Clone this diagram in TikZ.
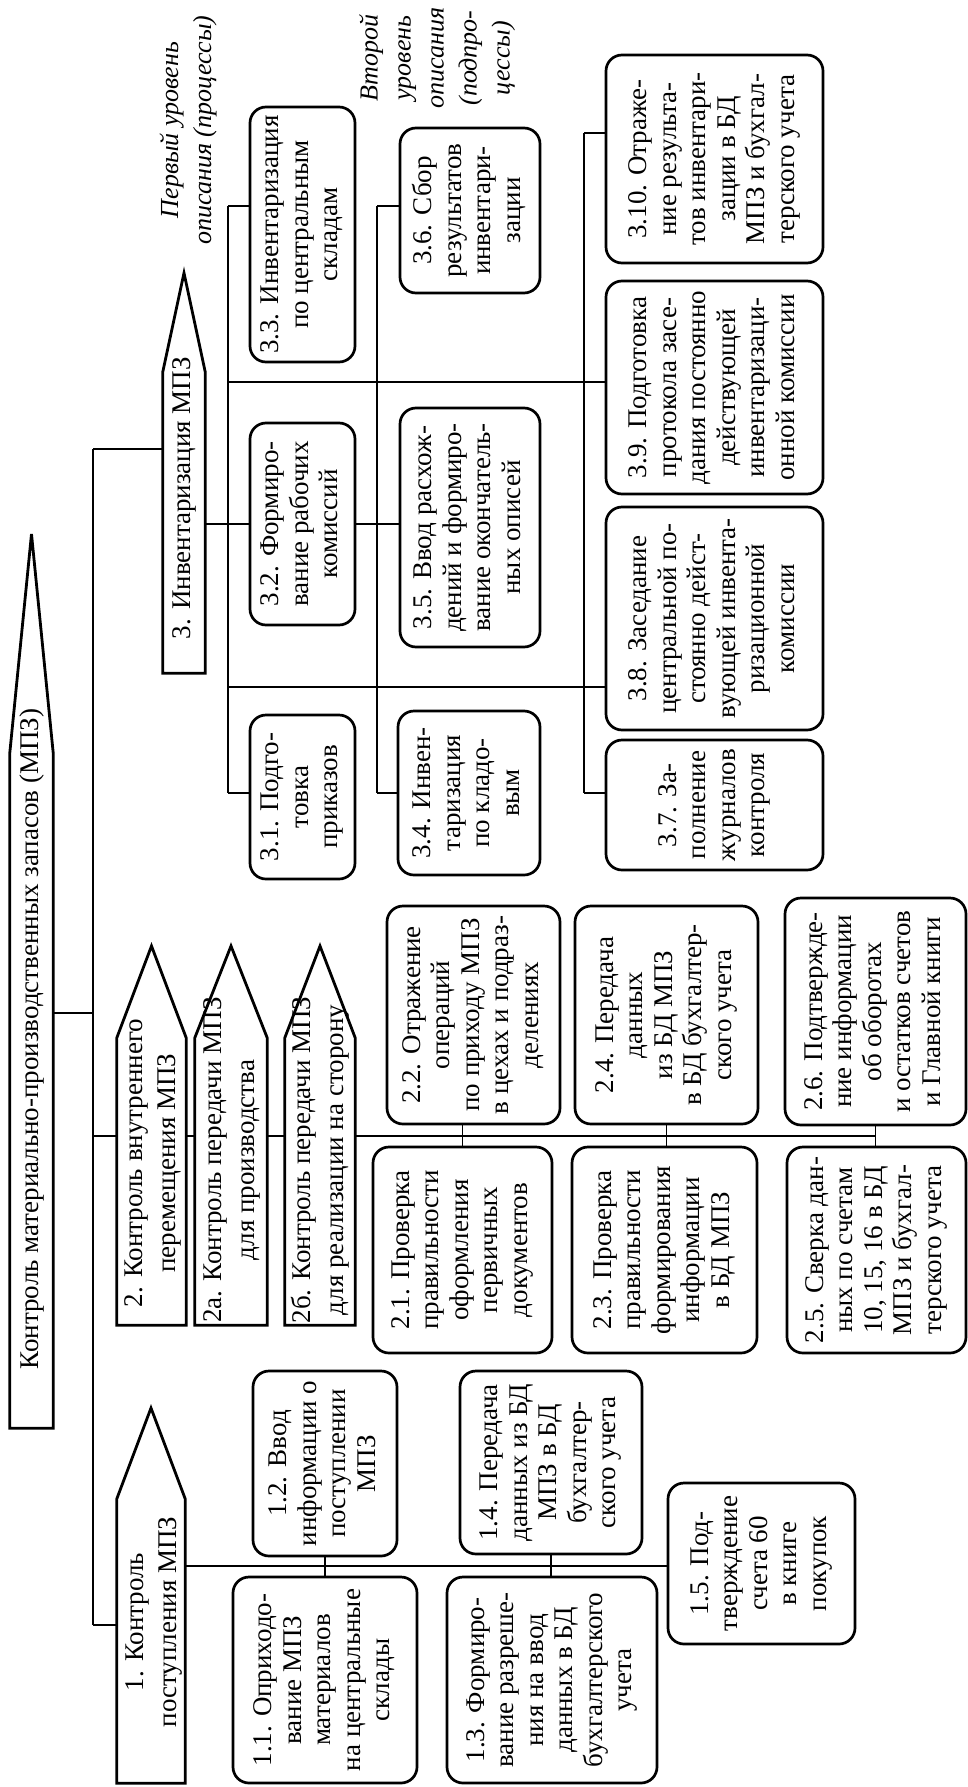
\documentclass[tikz,border=0pt]{standalone}
\usepackage{fontspec}
\usepackage{graphicx}
\setmainfont{Liberation Serif}
\usetikzlibrary{fit,calc,backgrounds}
\newcommand{\rtxt}[1]{\rotatebox{90}{\begin{tabular}{@{}c@{}}#1\end{tabular}}}
\begin{document}
\begin{tikzpicture}[x=1pt,y=-1pt,
  conn/.style={line width=1.3pt},
  bx/.style={draw, rounded corners=16pt, line width=2.7pt, inner sep=0pt, fill=white},
  btxt/.style={inner sep=0pt, font=\fontsize{27}{29.5}\selectfont},
  shaft/.style={inner sep=0pt, draw=none},
  pent/.style={draw, line width=2.8pt, fill=white, line join=miter},
  ptxt/.style={inner sep=0pt, font=\fontsize{27}{33}\selectfont},
  lab/.style={inner sep=0pt, font=\itshape\fontsize{26}{33}\selectfont}]
\useasboundingbox (0,0) rectangle (968,1787);

% pentagon shafts (invisible) and tips
\node[shaft, fit={(10,753) (53,1428)}] (s0) {};
\node[shaft, fit={(117,1499) (185,1783)}] (s1) {};
\node[shaft, fit={(117,1038) (186,1325)}] (s2) {};
\node[shaft, fit={(195,1038) (267,1325)}] (s2a) {};
\node[shaft, fit={(285,1038) (355,1325)}] (s2b) {};
\node[shaft, fit={(163,372) (205,673)}] (s3) {};
\coordinate (k0) at (s0.north |- 0,534);
\coordinate (k1) at (s1.north |- 0,1408);
\coordinate (k2) at (s2.north |- 0,946);
\coordinate (k2a) at (s2a.north |- 0,946);
\coordinate (k2b) at (s2b.north |- 0,946);
\coordinate (k3) at (s3.north |- 0,273);

% boxes
\node[bx, fit={(233,1577) (417,1783)}] (b11) {};
\node[bx, fit={(253,1371) (397,1556)}] (b12) {};
\node[bx, fit={(447,1577) (657,1783)}] (b13) {};
\node[bx, fit={(460,1371) (642,1554)}] (b14) {};
\node[bx, fit={(668,1483) (855,1644)}] (b15) {};
\node[bx, fit={(373,1147) (552,1353)}] (b21) {};
\node[bx, fit={(387,906) (560,1124)}] (b22) {};
\node[bx, fit={(572,1147) (757,1353)}] (b23) {};
\node[bx, fit={(575,906) (758,1124)}] (b24) {};
\node[bx, fit={(787,1147) (966,1353)}] (b25) {};
\node[bx, fit={(785,898) (966,1125)}] (b26) {};
\node[bx, fit={(250,715) (355,879)}] (b31) {};
\node[bx, fit={(250,423) (355,625)}] (b32) {};
\node[bx, fit={(250,107) (355,362)}] (b33) {};
\node[bx, fit={(398,711) (540,875)}] (b34) {};
\node[bx, fit={(400,408) (540,647)}] (b35) {};
\node[bx, fit={(400,128) (540,293)}] (b36) {};
\node[bx, fit={(606,740) (823,870)}] (b37) {};
\node[bx, fit={(606,507) (823,730)}] (b38) {};
\node[bx, fit={(606,281) (823,494)}] (b39) {};
\node[bx, fit={(606,55) (823,263)}] (b310) {};

\node[btxt] (x11) at (b11.center) {\rtxt{1.1. Оприходо-\\вание МПЗ\\материалов\\на центральные\\склады}};
\node[btxt] (x12) at (b12.center) {\rtxt{1.2. Ввод\\информации о\\поступлении\\МПЗ}};
\node[btxt] (x13) at (b13.center) {\rtxt{1.3. Формиро-\\вание разреше-\\ния на ввод\\данных в БД\\бухгалтерского\\учета}};
\node[btxt] (x14) at (b14.center) {\rtxt{1.4. Передача\\данных из БД\\МПЗ в БД\\бухгалтер-\\ского учета}};
\node[btxt] (x15) at (b15.center) {\rtxt{1.5. Под-\\тверждение\\счета 60\\в книге\\покупок}};
\node[btxt] (x21) at (b21.center) {\rtxt{2.1. Проверка\\правильности\\оформления\\первичных\\документов}};
\node[btxt] (x22) at (b22.center) {\rtxt{2.2. Отражение\\операций\\по приходу МПЗ\\в цехах и подраз-\\делениях}};
\node[btxt] (x23) at (b23.center) {\rtxt{2.3. Проверка\\правильности\\формирования\\информации\\в БД МПЗ}};
\node[btxt] (x24) at (b24.center) {\rtxt{2.4. Передача\\данных\\из БД МПЗ\\в БД бухгалтер-\\ского учета}};
\node[btxt] (x25) at (b25.center) {\rtxt{2.5. Сверка дан-\\ных по счетам\\10, 15, 16 в БД\\МПЗ и бухгал-\\терского учета}};
\node[btxt] (x26) at (b26.center) {\rtxt{2.6. Подтвержде-\\ние информации\\об оборотах\\и остатков счетов\\и Главной книги}};
\node[btxt] (x31) at (b31.center) {\rtxt{3.1. Подго-\\товка\\приказов}};
\node[btxt] (x32) at (b32.center) {\rtxt{3.2. Формиро-\\вание рабочих\\комиссий}};
\node[btxt] (x33) at (b33.center) {\rtxt{3.3. Инвентаризация\\по центральным\\складам}};
\node[btxt] (x34) at (b34.center) {\rtxt{3.4. Инвен-\\таризация\\по кладо-\\вым}};
\node[btxt] (x35) at (b35.center) {\rtxt{3.5. Ввод расхож-\\дений и формиро-\\вание окончатель-\\ных описей}};
\node[btxt] (x36) at (b36.center) {\rtxt{3.6. Сбор\\результатов\\инвентари-\\зации}};
\node[btxt] (x37) at (b37.center) {\rtxt{3.7. За-\\полнение\\журналов\\контроля}};
\node[btxt] (x38) at (b38.center) {\rtxt{3.8. Заседание\\центральной по-\\стоянно дейст-\\вующей инвента-\\ризационной\\комиссии}};
\node[btxt] (x39) at (b39.center) {\rtxt{3.9. Подготовка\\протокола засе-\\дания постоянно\\действующей\\инвентаризаци-\\онной комиссии}};
\node[btxt] (x310) at (b310.center) {\rtxt{3.10. Отраже-\\ние результа-\\тов инвентари-\\зации в БД\\МПЗ и бухгал-\\терского учета}};

% connectors (behind shapes)
\begin{scope}[on background layer]
\coordinate (jt) at (93,449);
\coordinate (jb) at (93,1625);
\draw[conn] (jt) -- (jb);
\draw[conn] (jt) -- (jt -| s3.west);
\draw[conn] (s0.east |- 0,1013) -- (93,1013);
\draw[conn] (jb) -- (jb -| s1.west);
% group 1
\draw[conn] (s1.east |- 0,1566) -- (b15.west |- 0,1566);
\draw[conn] (b12.south) -- (b12.south |- b11.north);
\draw[conn] (b14.south) -- (b14.south |- b13.north);
% group 2
\draw[conn] (93,1136) -- (b26.south |- 0,1136);
\draw[conn] (b21.north) -- (b21.north |- b22.south);
\draw[conn] (b24.south) -- (b24.south |- b23.north);
\draw[conn] (b26.south) -- (b26.south |- b25.north);
% group 3
\coordinate (v1t) at (228,206);
\coordinate (v1b) at (228,793);
\draw[conn] (v1t) -- (v1b);
\draw[conn] (v1t) -- (v1t -| b33.west);
\draw[conn] (228,382) -- (b39.west |- 0,382);
\draw[conn] (228,687) -- (b38.west |- 0,687);
\draw[conn] (v1b) -- (v1b -| b31.west);
\draw[conn] (s3.east |- 0,524) -- (b32.west |- 0,524);
\draw[conn] (b32.east |- 0,524) -- (b35.west |- 0,524);
\coordinate (v2t) at (377,206);
\coordinate (v2b) at (377,793);
\draw[conn] (v2t) -- (v2b);
\draw[conn] (v2t) -- (v2t -| b36.west);
\draw[conn] (v2b) -- (v2b -| b34.west);
\coordinate (v3t) at (584,133);
\coordinate (v3b) at (584,793);
\draw[conn] (v3t) -- (v3b);
\draw[conn] (v3t) -- (v3t -| b310.west);
\draw[conn] (v3b) -- (v3b -| b37.west);
\end{scope}

% pentagons
\foreach \s/\k in {s0/k0, s1/k1, s2/k2, s2a/k2a, s2b/k2b, s3/k3}{
  \draw[pent] (\s.south west) -- (\s.north west) -- (\k) -- (\s.north east) -- (\s.south east) -- cycle;
}
\node[ptxt] (t0) at (32,1039) {\rtxt{Контроль материально-производственных запасов (МПЗ)}};
\node[ptxt] (t1) at (153,1622) {\rtxt{1. Контроль\\поступления МПЗ}};
\node[ptxt] (t2) at (152,1163) {\rtxt{2. Контроль внутреннего\\перемещения МПЗ}};
\node[ptxt] (t2a) at (231,1160) {\rtxt{2а. Контроль передачи МПЗ\\для производства}};
\node[ptxt] (t2b) at (320,1160) {\rtxt{2б. Контроль передачи МПЗ\\для реализации на сторону}};
\node[ptxt] (t3) at (184,498) {\rtxt{3. Инвентаризация МПЗ}};

% level labels
\node[lab] (l1) at (188,130) {\rtxt{Первый уровень\\описания (процессы)}};
\node[lab] (l2) at (437,58) {\rtxt{Второй\\уровень\\описания\\(подпро-\\цессы)}};
\end{tikzpicture}
\end{document}
